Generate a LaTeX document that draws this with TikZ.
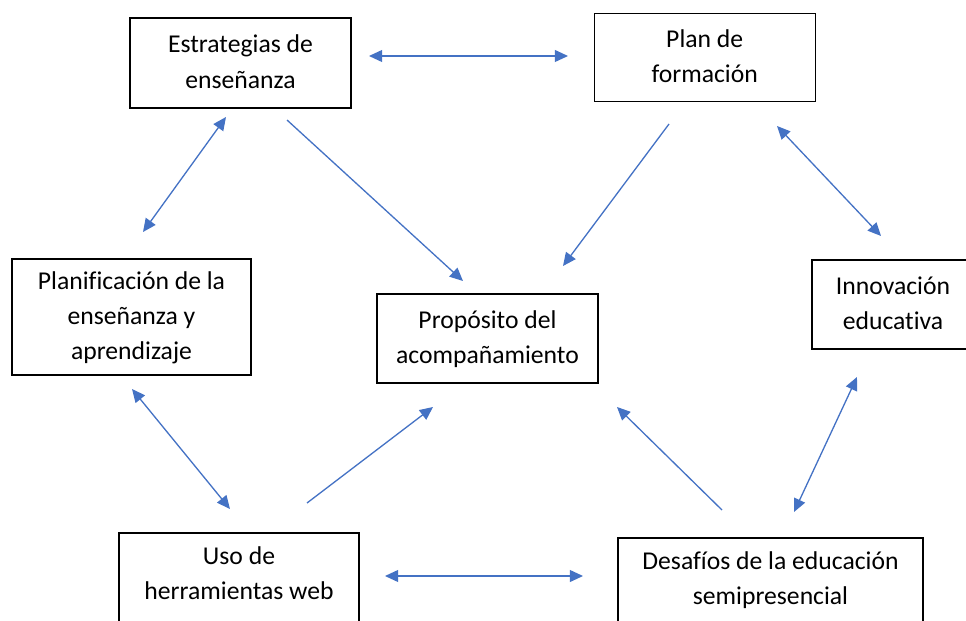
\documentclass[tikz,border=0pt]{standalone}
\usepackage{fontspec}
\setmainfont{Carlito}[Ligatures=NoCommon]
\usetikzlibrary{arrows.meta}
\definecolor{azul}{HTML}{4472C4}

\begin{document}
\begin{tikzpicture}[x=0.02cm, y=-0.02cm,
	caja/.style={draw, line width=0.75pt, align=center, inner sep=0pt,
		font=\fontsize{14.6}{20.1}\selectfont, text depth=1.5pt},
	flecha/.style={azul, line width=0.75pt, -{Triangle[length=7.5pt,width=6.8pt]}},
	doble/.style={flecha, {Triangle[length=7.5pt,width=6.8pt]}-{Triangle[length=7.5pt,width=6.8pt]}}]
		\useasboundingbox (0,0) rectangle (966,621);

		\draw
		node[caja, minimum width=4.42cm, minimum height=1.8cm] at (240.5,63) (estr) {Estrategias de\\enseñanza}
		node[caja, minimum width=4.42cm, minimum height=1.76cm] at (704.7,57.5) (plan) {Plan de\\formación}
		node[caja, minimum width=4.78cm, minimum height=2.32cm] at (131.5,317) (plani) {Planificación de la\\enseñanza y\\aprendizaje}
		node[caja, minimum width=4.42cm, minimum height=1.78cm] at (487.5,338.5) (prop) {Propósito del\\acompañamiento}
		node[caja, minimum width=3.24cm, minimum height=1.78cm] at (893,304.5) (inno) {Innovación\\educativa}
		node[caja, minimum width=4.8cm, minimum height=1.84cm, text depth=6.5pt] at (239,579) (uso) {Uso de\\herramientas web}
		node[caja, minimum width=6.1cm, minimum height=1.84cm, text depth=6.5pt] at (770.5,584) (desaf) {Desafíos de la educación\\semipresencial}
		;

		% extremos de las flechas
		\coordinate (ep1) at (369,56);   \coordinate (ep2) at (568,56);
		\coordinate (epr1) at (287,120); \coordinate (epr2) at (463,281);
		\coordinate (ppr1) at (669,124); \coordinate (ppr2) at (563,266);
		\coordinate (epl1) at (226,117); \coordinate (epl2) at (143,232);
		\coordinate (pin1) at (777,126); \coordinate (pin2) at (881,236);
		\coordinate (plu1) at (132,389); \coordinate (plu2) at (230,509);
		\coordinate (upr1) at (307,503); \coordinate (upr2) at (433,407);
		\coordinate (dpr1) at (722,510); \coordinate (dpr2) at (617,407);
		\coordinate (ind1) at (857,377); \coordinate (ind2) at (794,512);
		\coordinate (ud1) at (385,576);  \coordinate (ud2) at (583,576);

		\draw[doble] (ep1) -- (ep2);
		\draw[flecha] (epr1) -- (epr2);
		\draw[flecha] (ppr1) -- (ppr2);
		\draw[doble] (epl1) -- (epl2);
		\draw[doble] (pin1) -- (pin2);
		\draw[doble] (plu1) -- (plu2);
		\draw[flecha] (upr1) -- (upr2);
		\draw[flecha] (dpr1) -- (dpr2);
		\draw[doble] (ind1) -- (ind2);
		\draw[doble] (ud1) -- (ud2);
	\end{tikzpicture}
\end{document}
